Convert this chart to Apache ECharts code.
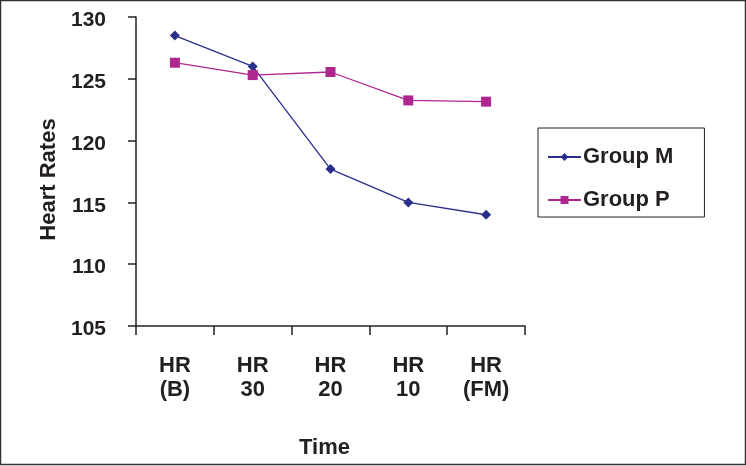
<!DOCTYPE html>
<html>
<head>
<meta charset="utf-8">
<script src="https://cdn.jsdelivr.net/npm/echarts@6/dist/echarts.min.js"></script>
<style>
  html, body { margin: 0; padding: 0; background: #fff; }
  #chart { width: 746px; height: 466px; }
</style>
</head>
<body>
<div id="chart"></div>
<script>
// data
const categories = ['HR\n(B)', 'HR\n30', 'HR\n20', 'HR\n10', 'HR\n(FM)']
const groupM = [128.5, 126.0, 117.7, 115.0, 114.0]
const groupP = [126.3, 125.3, 125.55, 123.25, 123.15]
const yTicks = [105, 110, 115, 120, 125, 130]

const textColor = '#231f20'
const font = 'Liberation Sans, Arial, sans-serif'

const myChart = echarts.init(document.getElementById('chart'))

const myOption = {
  backgroundColor: '#fff',
  animation: false,

  // frame round the whole picture
  graphic: [{
    type: 'rect',
    shape: { x: 0.5, y: 0.5, width: 745, height: 464 },
    style: { fill: 'none', stroke: '#333', lineWidth: 1.5 }
  }],

  legend: {
    orient: 'vertical',
    left: 538,
    top: 128,
    padding: [18, 31, 6, 9],
    itemGap: 21,
    itemWidth: 33,
    itemHeight: 10,
    borderColor: '#222',
    borderWidth: 1,
    textStyle: {
      color: textColor,
      fontSize: 22,
      fontWeight: 'bold',
      fontFamily: font,
      padding: [0, 0, 0, -3]
    },
    data: ['Group M', 'Group P']
  },

  grid: {
    left: 136,
    top: 17,
    right: 221,
    bottom: 140,
    containLabel: false
  },

  xAxis: {
    type: 'category',
    data: categories,
    boundaryGap: true,
    name: 'Time',
    nameLocation: 'middle',
    nameGap: 111,
    nameTextStyle: { color: textColor, fontSize: 22, fontWeight: 'bold', fontFamily: font, padding: [0, 12, 0, 0] },
    axisLine: { lineStyle: { color: '#222', width: 1.5 } },
    axisTick: { show: true, inside: false, length: 9, alignWithLabel: false, lineStyle: { color: '#222', width: 1.5 } },
    axisLabel: {
      color: textColor,
      fontSize: 22,
      fontWeight: 'bold',
      fontFamily: font,
      lineHeight: 24,
      margin: 28
    },
    splitLine: { show: false }
  },

  yAxis: {
    type: 'value',
    min: yTicks[0],
    max: yTicks[yTicks.length - 1],
    interval: 5,
    name: 'Heart Rates',
    nameLocation: 'middle',
    nameGap: 75,
    nameRotate: 90,
    nameTextStyle: { color: textColor, fontSize: 22, fontWeight: 'bold', fontFamily: font, padding: [0, 16, 0, 0] },
    axisLine: { show: true, lineStyle: { color: '#222', width: 1.5 } },
    axisTick: { show: true, inside: false, length: 8, lineStyle: { color: '#222', width: 1.5 } },
    axisLabel: {
      color: textColor,
      fontSize: 21,
      fontWeight: 'bold',
      fontFamily: font,
      margin: 30,
      verticalAlign: 'top',
      lineHeight: 7
    },
    splitLine: { show: false }
  },

  series: [
    {
      name: 'Group M',
      type: 'line',
      data: groupM,
      symbol: 'diamond',
      symbolSize: 10,
      itemStyle: { color: '#2b2f8c' },
      lineStyle: { color: '#2b2f8c', width: 1.3 }
    },
    {
      name: 'Group P',
      type: 'line',
      data: groupP,
      symbol: 'rect',
      symbolSize: 10,
      itemStyle: { color: '#b0268f' },
      lineStyle: { color: '#b0268f', width: 1.3 }
    }
  ]
}
myChart.setOption(myOption)
</script>
</body>
</html>
